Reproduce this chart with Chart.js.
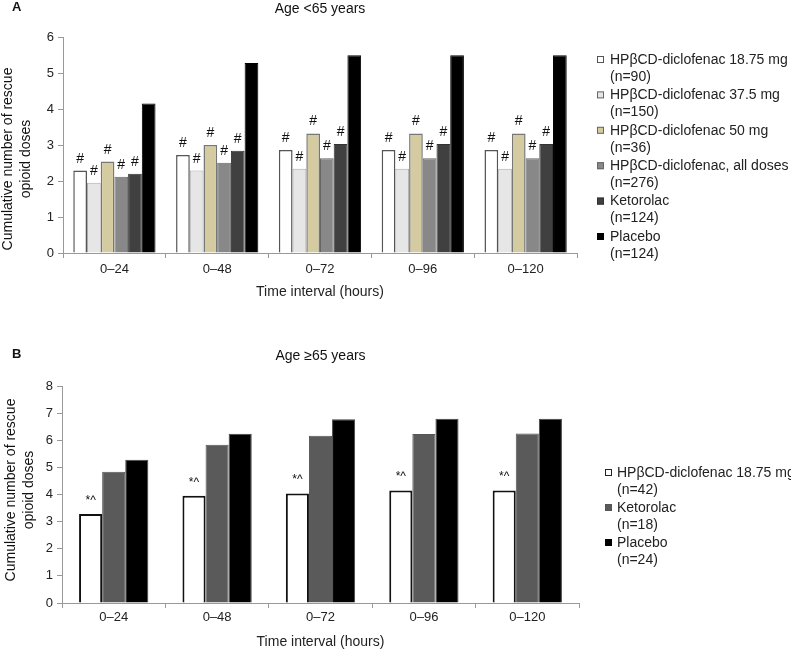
<!DOCTYPE html>
<html>
<head>
<meta charset="utf-8">
<script src="https://cdn.jsdelivr.net/npm/chart.js@4.4.1/dist/chart.umd.min.js"></script>
<style>
  body { margin: 0; background: #fff; }
  .wrap { position: absolute; left: 0; }
</style>
</head>
<body>
<div class="wrap" style="top:0"><canvas id="chartA" width="791" height="325"></canvas></div>
<div class="wrap" style="top:325px"><canvas id="chartB" width="791" height="327"></canvas></div>
<script>
// time intervals (hours)
const intervals = ['0–24', '0–48', '0–72', '0–96', '0–120'];

// Panel A: age <65 years
const a1875 = [2.29, 2.72, 2.86, 2.86, 2.86];
const a375 = [1.95, 2.29, 2.34, 2.34, 2.34];
const a50 = [2.54, 3.00, 3.32, 3.32, 3.32];
const aAll = [2.12, 2.51, 2.63, 2.63, 2.63];
const aKetorolac = [2.20, 2.84, 3.03, 3.03, 3.03];
const aPlacebo = [4.15, 5.28, 5.49, 5.49, 5.49];
const aMarks = ['#', '#', '#', '#', '#', ''];

// Panel B: age >=65 years
const b1875 = [3.28, 3.95, 4.04, 4.15, 4.15];
const bKetorolac = [4.84, 5.83, 6.17, 6.23, 6.25];
const bPlacebo = [5.28, 6.24, 6.77, 6.79, 6.79];
const bMarks = ['*^', '', ''];

Chart.defaults.font.family = '"Liberation Sans", Arial, sans-serif';
Chart.defaults.color = '#222';

const extras = {
    id: 'extras',
    afterDatasetsDraw(chart, args, o) {
        const ctx = chart.ctx;
        const area = chart.chartArea;
        ctx.save();
        ctx.fillStyle = '#111';

        // significance marks above bars
        ctx.textAlign = 'center';
        ctx.textBaseline = 'alphabetic';
        ctx.font = o.markFont;
        chart.data.datasets.forEach((ds, i) => {
            const mark = o.marks[i];
            if (!mark) return;
            chart.getDatasetMeta(i).data.forEach(bar => {
                ctx.fillText(mark, bar.x, bar.y - o.markGap);
            });
        });

        // panel letter and title
        ctx.textAlign = 'left';
        ctx.font = 'bold 13px "Liberation Sans", Arial, sans-serif';
        ctx.fillText(o.letter, 12, o.letterY);
        ctx.textAlign = 'center';
        ctx.font = '14px "Liberation Sans", Arial, sans-serif';
        ctx.fillText(o.title, (area.left + area.right) / 2, o.titleY);

        // y axis title, two lines
        ctx.textBaseline = 'middle';
        o.yTitle.forEach((line, i) => {
            ctx.save();
            ctx.translate(o.yTitleX[i], o.yTitleY);
            ctx.rotate(-Math.PI / 2);
            ctx.fillText(line, 0, 0);
            ctx.restore();
        });

        // legend
        ctx.textAlign = 'left';
        chart.data.datasets.forEach((ds, i) => {
            const y = o.legendY + i * o.itemGap;
            ctx.fillStyle = ds.backgroundColor;
            ctx.fillRect(o.boxX, y - 4, 7, 7);
            ctx.strokeStyle = ds.legendBorder;
            ctx.lineWidth = 1;
            ctx.strokeRect(o.boxX + 0.5, y - 3.5, 6, 6);
            ctx.fillStyle = '#222';
            ds.label.forEach((line, j) => {
                ctx.fillText(line, o.textX, y + j * o.lineGap);
            });
        });
        ctx.restore();
    }
};

function makeScales(yMax, yWidth, xHeight, tickPad, titlePad) {
    return {
        x: {
            ticks: { padding: tickPad, font: { size: 13 } },
            grid: { drawOnChartArea: false, tickLength: 5, color: '#999', offset: true },
            border: { color: '#999' },
            title: { display: true, text: 'Time interval (hours)', font: { size: 14 }, padding: { top: 0, bottom: titlePad } },
            afterFit(s) { s.height = xHeight; }
        },
        y: {
            min: 0,
            max: yMax,
            ticks: { stepSize: 1, padding: 4, font: { size: 13 } },
            grid: { drawOnChartArea: false, tickLength: 5, color: '#999' },
            border: { color: '#999' },
            afterFit(s) { s.width = yWidth; }
        }
    };
}

new Chart(document.getElementById('chartA'), {
    type: 'bar',
    data: {
        labels: intervals,
        datasets: [
            { label: ['HPβCD-diclofenac 18.75 mg', '(n=90)'], data: a1875, backgroundColor: '#ffffff', borderColor: '#555', legendBorder: '#555', borderWidth: 1.5 },
            { label: ['HPβCD-diclofenac 37.5 mg', '(n=150)'], data: a375, backgroundColor: '#e6e6e6', borderColor: '#aaa', legendBorder: '#666', borderWidth: 1 },
            { label: ['HPβCD-diclofenac 50 mg', '(n=36)'], data: a50, backgroundColor: '#d5cba0', borderColor: '#777', legendBorder: '#666', borderWidth: 1.5 },
            { label: ['HPβCD-diclofenac, all doses', '(n=276)'], data: aAll, backgroundColor: '#888888', borderColor: '#666', legendBorder: '#666', borderWidth: 1 },
            { label: ['Ketorolac', '(n=124)'], data: aKetorolac, backgroundColor: '#404040', borderColor: '#333', legendBorder: '#333', borderWidth: 1 },
            { label: ['Placebo', '(n=124)'], data: aPlacebo, backgroundColor: '#000000', borderColor: '#000', legendBorder: '#000', borderWidth: 1 }
        ]
    },
    options: {
        responsive: false,
        animation: false,
        devicePixelRatio: 1,
        categoryPercentage: 0.8,
        barPercentage: 1.0,
        layout: { padding: { left: 0, top: 37, right: 214, bottom: 12 } },
        scales: makeScales(6, 63, 60, 4, 12),
        plugins: {
            legend: { display: false },
            tooltip: { enabled: false },
            extras: {
                marks: aMarks, markFont: '14px "Liberation Sans", Arial, sans-serif', markGap: 8,
                letter: 'A', letterY: 11, title: 'Age <65 years', titleY: 13,
                yTitle: ['Cumulative number of rescue', 'opioid doses'], yTitleX: [8, 26], yTitleY: 159,
                boxX: 597, textX: 610, legendY: 60, itemGap: 35.4, lineGap: 17
            }
        }
    },
    plugins: [extras]
});

new Chart(document.getElementById('chartB'), {
    type: 'bar',
    data: {
        labels: intervals,
        datasets: [
            { label: ['HPβCD-diclofenac 18.75 mg', '(n=42)'], data: b1875, backgroundColor: '#ffffff', borderColor: '#111', legendBorder: '#222', borderWidth: 2 },
            { label: ['Ketorolac', '(n=18)'], data: bKetorolac, backgroundColor: '#5a5a5a', borderColor: '#555', legendBorder: '#555', borderWidth: 1 },
            { label: ['Placebo', '(n=24)'], data: bPlacebo, backgroundColor: '#000000', borderColor: '#444', legendBorder: '#000', borderWidth: 1 }
        ]
    },
    options: {
        responsive: false,
        animation: false,
        devicePixelRatio: 1,
        categoryPercentage: 0.67,
        barPercentage: 1.0,
        layout: { padding: { left: 0, top: 61, right: 212, bottom: 1 } },
        scales: makeScales(8, 62, 48, 1.5, 0),
        plugins: {
            legend: { display: false },
            tooltip: { enabled: false },
            extras: {
                marks: bMarks, markFont: '12px "Liberation Sans", Arial, sans-serif', markGap: 10,
                letter: 'B', letterY: 33, title: 'Age ≥65 years', titleY: 35,
                yTitle: ['Cumulative number of rescue', 'opioid doses'], yTitleX: [11, 29], yTitleY: 165,
                boxX: 605, textX: 617, legendY: 148, itemGap: 35, lineGap: 17
            }
        }
    },
    plugins: [extras]
});
</script>
</body>
</html>
